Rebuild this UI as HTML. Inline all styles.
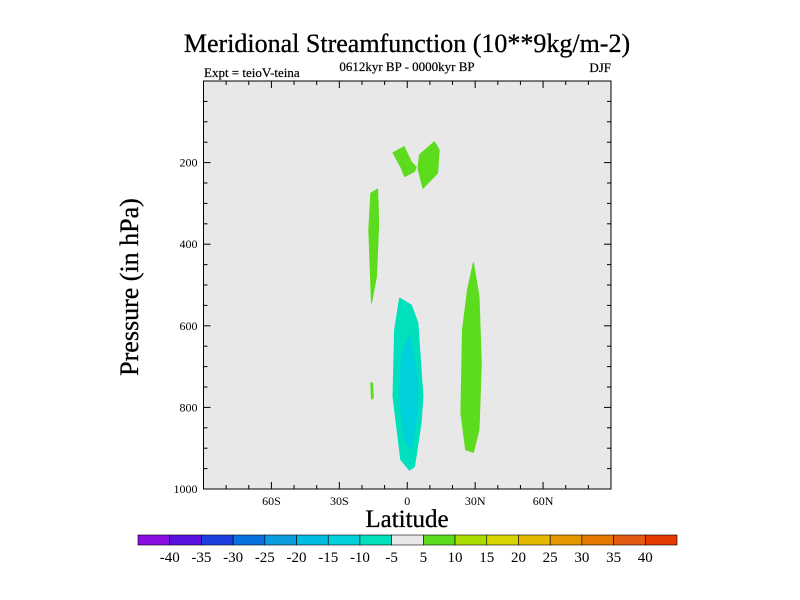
<!DOCTYPE html>
<html><head><meta charset="utf-8"><style>
body{margin:0;background:#fff}
svg{display:block}
text{font-family:"Liberation Serif",serif;fill:#000}
</style></head><body>
<svg id="chart" width="800" height="600" viewBox="0 0 800 600" xmlns="http://www.w3.org/2000/svg">
<text x="407" y="52" font-size="26" text-anchor="middle" stroke="#000" stroke-width="0.3">Meridional Streamfunction (10**9kg/m-2)</text>
<text x="204" y="77" font-size="13" stroke="#000" stroke-width="0.2">Expt = teioV-teina</text>
<text x="407" y="71" font-size="13" text-anchor="middle" stroke="#000" stroke-width="0.2">0612kyr BP - 0000kyr BP</text>
<text x="611" y="72" font-size="13" text-anchor="end" stroke="#000" stroke-width="0.2">DJF</text>
<rect x="203.5" y="81" width="407.5" height="408" fill="#e8e8e8"/>
<g id="contours"></g>
<g id="axes"></g>
<rect x="203.5" y="81" width="407.5" height="408" fill="none" stroke="#000" stroke-width="1"/>
<text transform="translate(138,287) rotate(-90)" font-size="26" text-anchor="middle" stroke="#000" stroke-width="0.3">Pressure (in hPa)</text>
<text x="407" y="527" font-size="25" text-anchor="middle" stroke="#000" stroke-width="0.3">Latitude</text>
<g id="colorbar"></g>
</svg>
<script>
const yTicks=[200,400,600,800,1000];
const xTicks=[-60,-30,0,30,60];
const xTickLabels=["60S","30S","0","30N","60N"];
const cbLabels=[-40,-35,-30,-25,-20,-15,-10,-5,5,10,15,20,25,30,35,40];
const cbColors=["#8a0ee0","#5a10e0","#1e3ee0","#0a72e0","#0a9ee0","#00bce0","#00d0dc","#00e0bc","#e8e8e8","#5cdc1c","#a8dc00","#d8d400","#e4b800","#e49800","#e47800","#e45a10","#e43a00"];
// contour polygons: [lat..],[pressure..]
const blobUpperLeftLat=[-6.3,-1.4,1.8,3.9,3.2,-1.2,-2.6];
const blobUpperLeftP=[176,161,198,211,222,234,214];
const blobUpperRightLat=[5.4,12.0,14.1,13.4,6.9,4.7];
const blobUpperRightP=[181,149,169,226,263,214];
const blobLeftTallLat=[-16.1,-13.1,-12.6,-13.6,-15.8,-17.0];
const blobLeftTallP=[275,265,349,479,544,365];
const blobSmallLat=[-16.1,-15.3,-15.0,-15.8];
const blobSmallP=[740,740,777,780];
const blobRightTallLat=[29.2,31.7,32.7,31.7,29.2,25.8,23.7,24.4,26.6];
const blobRightTallP=[445,528,691,855,910,904,814,610,512];
const negOuterLat=[-3.4,1.8,4.7,6.9,6.1,3.2,1.0,-2.9,-6.3,-5.6];
const negOuterP=[532,549,593,773,838,945,954,928,773,610];
const negInnerLat=[1.0,4.7,4.7,1.8,-1.2,-3.6,-2.6];
const negInnerP=[622,732,814,904,879,773,675];

const X0=203.5,X1=611,Y0=81,Y1=489;
const xs=lat=>X0+(lat+90)/180*(X1-X0);
const ys=p=>Y0+p/1000*(Y1-Y0);
const NS="http://www.w3.org/2000/svg";
function mk(tag,attrs,parent){const e=document.createElementNS(NS,tag);for(const k in attrs)e.setAttribute(k,attrs[k]);parent.appendChild(e);return e;}
const cg=document.getElementById('contours');
function poly(lats,ps,fill,name){
  const pts=lats.map((l,i)=>xs(l).toFixed(1)+","+ys(ps[i]).toFixed(1)).join(" ");
  const e=mk('polygon',{points:pts,fill:fill,stroke:fill,"stroke-width":1,"stroke-linejoin":"round"},cg);
  
  
}
poly(blobUpperLeftLat,blobUpperLeftP,"#5cdc1c","contour-upper-left");
poly(blobUpperRightLat,blobUpperRightP,"#5cdc1c","contour-upper-right");
poly(blobLeftTallLat,blobLeftTallP,"#5cdc1c","contour-left-tall");
poly(blobSmallLat,blobSmallP,"#5cdc1c","contour-small");
poly(blobRightTallLat,blobRightTallP,"#5cdc1c","contour-right-tall");
poly(negOuterLat,negOuterP,"#00e0bc","contour-negative-outer");
poly(negInnerLat,negInnerP,"#00d0dc","contour-negative-inner");

const ag=document.getElementById('axes');
for(let p=50;p<1000;p+=50){
  const major=p%200===0, L=major?7:4, y=ys(p);
  mk('line',{x1:X0,x2:X0+L,y1:y,y2:y,stroke:"#000"},ag);
  mk('line',{x1:X1,x2:X1-L,y1:y,y2:y,stroke:"#000"},ag);
}
for(let l=-80;l<90;l+=10){
  const major=l%30===0, L=major?7:4, x=xs(l);
  mk('line',{x1:x,x2:x,y1:Y1,y2:Y1-L,stroke:"#000"},ag);
  mk('line',{x1:x,x2:x,y1:Y0,y2:Y0+L,stroke:"#000"},ag);
}
yTicks.forEach(p=>{
  const t=mk('text',{x:X0-6,y:ys(p)+4,"font-size":12,"text-anchor":"end","font-family":"Liberation Sans, sans-serif"},ag);
  t.textContent=p;
  
  
});
xTicks.forEach((l,i)=>{
  const t=mk('text',{x:xs(l),y:Y1+16,"font-size":12,"text-anchor":"middle"},ag);
  t.textContent=xTickLabels[i];
  
  
});
const cb=document.getElementById('colorbar');
const cbX=138,cbW=539,cbY=535,cbH=10,bw=cbW/cbColors.length;
cbColors.forEach((c,i)=>{
  const r=mk('rect',{x:cbX+i*bw,y:cbY,width:bw,height:cbH,fill:c,stroke:"#000","stroke-width":0.6},cb);
  
  
});
cbLabels.forEach((v,i)=>{
  const t=mk('text',{x:cbX+(i+1)*bw,y:cbY+27,"font-size":15,"text-anchor":"middle"},cb);
  t.textContent=v;
  
  
});
</script>
</body></html>
